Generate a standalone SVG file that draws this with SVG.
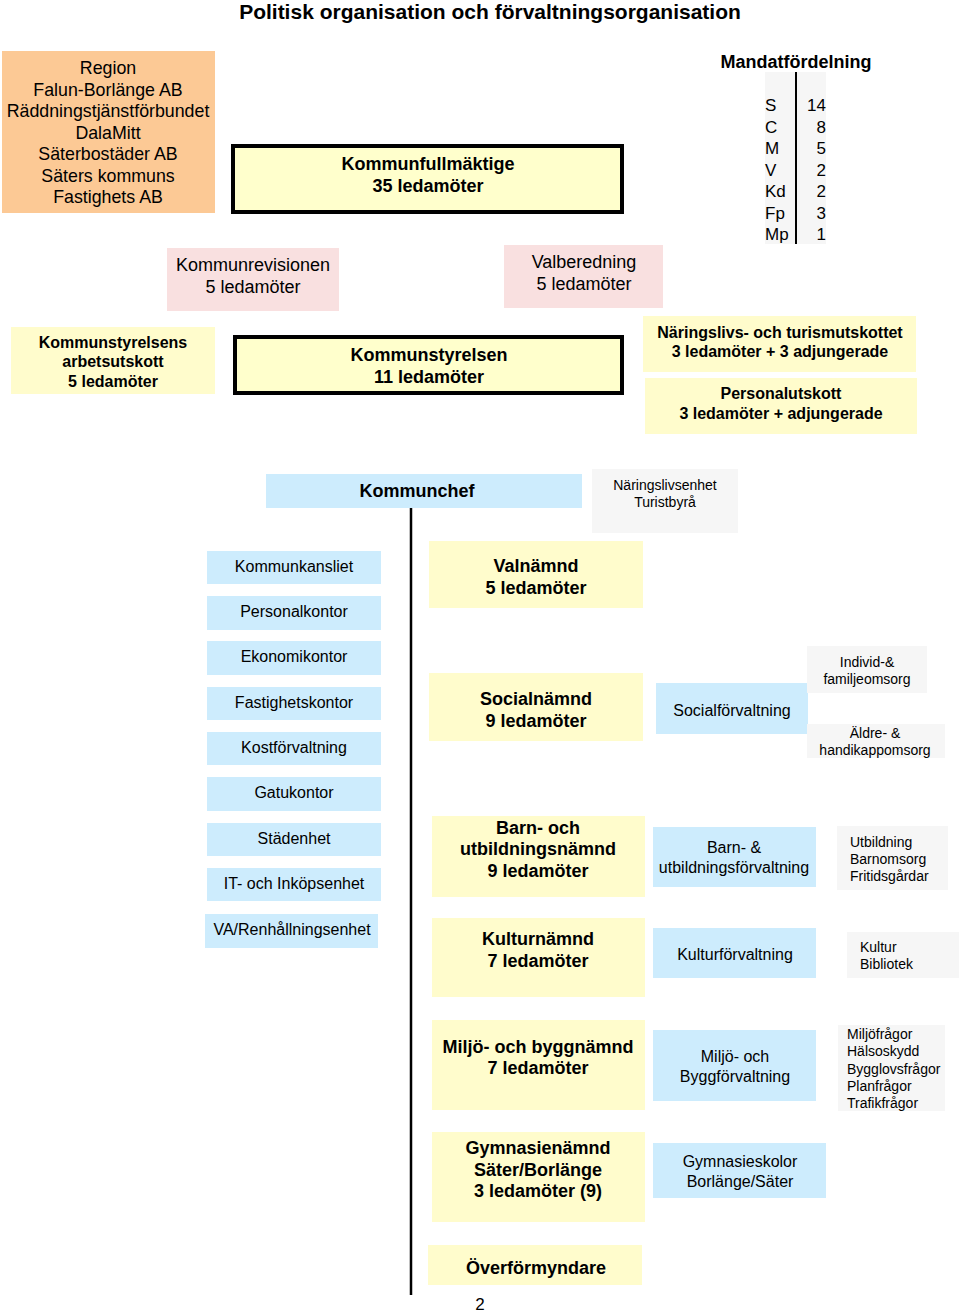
<svg xmlns="http://www.w3.org/2000/svg" width="960" height="1312" viewBox="0 0 960 1312">
<style>
text{font-family:"Liberation Sans",Arial,sans-serif;fill:#000}
.c{text-anchor:middle}
.b{font-weight:bold}
.orange{fill:#fcc995}
.yel{fill:#fffccc}
.ythick{fill:#ffffcc;stroke:#000;stroke-width:4}
.pink{fill:#f9e0e0}
.blue{fill:#cdecfd}
.grey{fill:#f6f6f6}
.f18{font-size:18px}
.f17{font-size:17px}
.f16{font-size:16px}
.f14{font-size:14px}
</style>
<rect width="960" height="1312" fill="#fff"/>
<text x="490" y="19" class="c b" font-size="21">Politisk organisation och förvaltningsorganisation</text>

<g id="region">
<rect x="2" y="51" width="213" height="162" class="orange"/>
<text class="c" font-size="17.8" x="108"><tspan x="108" y="74">Region</tspan><tspan x="108" y="95.5">Falun-Borlänge AB</tspan><tspan x="108" y="117">Räddningstjänstförbundet</tspan><tspan x="108" y="138.5">DalaMitt</tspan><tspan x="108" y="160">Säterbostäder AB</tspan><tspan x="108" y="181.5">Säters kommuns</tspan><tspan x="108" y="203">Fastighets AB</tspan></text>
</g>

<g id="kommunfullmaktige">
<rect x="233" y="146" width="389" height="66" class="ythick"/>
<text class="c b f18"><tspan x="428" y="170">Kommunfullmäktige</tspan><tspan x="428" y="192">35 ledamöter</tspan></text>
</g>

<g id="mandatfordelning">
<text x="796" y="68" class="c b f18">Mandatfördelning</text>
<rect x="765" y="72" width="61" height="172" class="grey"/>
<line x1="796" y1="72" x2="796" y2="244" stroke="#000" stroke-width="2"/>
<text class="f17"><tspan x="765" y="111">S</tspan><tspan x="765" y="133">C</tspan><tspan x="765" y="154">M</tspan><tspan x="765" y="176">V</tspan><tspan x="765" y="197">Kd</tspan><tspan x="765" y="219">Fp</tspan><tspan x="765" y="240">Mp</tspan></text>
<text class="f17" text-anchor="end"><tspan x="826" y="111">14</tspan><tspan x="826" y="133">8</tspan><tspan x="826" y="154">5</tspan><tspan x="826" y="176">2</tspan><tspan x="826" y="197">2</tspan><tspan x="826" y="219">3</tspan><tspan x="826" y="240">1</tspan></text>
</g>

<g id="kommunrevisionen">
<rect x="167" y="248" width="172" height="63" class="pink"/>
<text class="c f18"><tspan x="253" y="271">Kommunrevisionen</tspan><tspan x="253" y="293">5 ledamöter</tspan></text>
</g>

<g id="valberedning">
<rect x="504" y="245" width="159" height="63" class="pink"/>
<text class="c f18"><tspan x="584" y="268">Valberedning</tspan><tspan x="584" y="290">5 ledamöter</tspan></text>
</g>

<g id="ks-au">
<rect x="11" y="327" width="204" height="67" class="yel"/>
<text class="c b f16"><tspan x="113" y="348">Kommunstyrelsens</tspan><tspan x="113" y="367">arbetsutskott</tspan><tspan x="113" y="387">5 ledamöter</tspan></text>
</g>

<g id="kommunstyrelsen">
<rect x="235" y="337" width="387" height="56" class="ythick"/>
<text class="c b f18"><tspan x="429" y="361">Kommunstyrelsen</tspan><tspan x="429" y="383">11 ledamöter</tspan></text>
</g>

<g id="naringslivsutskott">
<rect x="643" y="316" width="273" height="56" class="yel"/>
<text class="c b f16"><tspan x="780" y="338">Näringslivs- och turismutskottet</tspan><tspan x="780" y="357">3 ledamöter + 3 adjungerade</tspan></text>
</g>

<g id="personalutskott">
<rect x="645" y="378" width="272" height="56" class="yel"/>
<text class="c b f16"><tspan x="781" y="399">Personalutskott</tspan><tspan x="781" y="419">3 ledamöter + adjungerade</tspan></text>
</g>

<g id="kommunchef">
<rect x="266" y="474" width="316" height="34" class="blue"/>
<text x="417" y="497" class="c b f18">Kommunchef</text>
</g>

<g id="naringslivsenhet">
<rect x="592" y="469" width="146" height="64" class="grey"/>
<text class="c f14"><tspan x="665" y="490">Näringslivsenhet</tspan><tspan x="665" y="507">Turistbyrå</tspan></text>
</g>

<g id="connectors">
<line x1="411" y1="508" x2="411" y2="1295" stroke="#000" stroke-width="2.5"/>
</g>

<g id="kommunkansliet"><rect x="207" y="551" width="174" height="33" class="blue"/><text x="294" y="572" class="c f16">Kommunkansliet</text></g>
<g id="personalkontor"><rect x="207" y="596" width="174" height="34" class="blue"/><text x="294" y="617" class="c f16">Personalkontor</text></g>
<g id="ekonomikontor"><rect x="207" y="641" width="174" height="34" class="blue"/><text x="294" y="662" class="c f16">Ekonomikontor</text></g>
<g id="fastighetskontor"><rect x="207" y="687" width="174" height="33" class="blue"/><text x="294" y="708" class="c f16">Fastighetskontor</text></g>
<g id="kostforvaltning"><rect x="207" y="732" width="174" height="33" class="blue"/><text x="294" y="753" class="c f16">Kostförvaltning</text></g>
<g id="gatukontor"><rect x="207" y="777" width="174" height="34" class="blue"/><text x="294" y="798" class="c f16">Gatukontor</text></g>
<g id="stadenhet"><rect x="207" y="823" width="174" height="33" class="blue"/><text x="294" y="844" class="c f16">Städenhet</text></g>
<g id="it-inkop"><rect x="207" y="868" width="174" height="33" class="blue"/><text x="294" y="889" class="c f16">IT- och Inköpsenhet</text></g>
<g id="va-renhallning"><rect x="205" y="914" width="173" height="34" class="blue"/><text x="292" y="935" class="c f16">VA/Renhållningsenhet</text></g>

<g id="valnamnd"><rect x="429" y="541" width="214" height="67" class="yel"/><text class="c b f18"><tspan x="536" y="572">Valnämnd</tspan><tspan x="536" y="594">5 ledamöter</tspan></text></g>
<g id="socialnamnd"><rect x="429" y="673" width="214" height="68" class="yel"/><text class="c b f18"><tspan x="536" y="705">Socialnämnd</tspan><tspan x="536" y="727">9 ledamöter</tspan></text></g>
<g id="bun"><rect x="432" y="816" width="213" height="81" class="yel"/><text class="c b f18"><tspan x="538" y="834">Barn- och</tspan><tspan x="538" y="855">utbildningsnämnd</tspan><tspan x="538" y="877">9 ledamöter</tspan></text></g>
<g id="kulturnamnd"><rect x="432" y="918" width="213" height="79" class="yel"/><text class="c b f18"><tspan x="538" y="945">Kulturnämnd</tspan><tspan x="538" y="967">7 ledamöter</tspan></text></g>
<g id="miljobygg"><rect x="432" y="1020" width="213" height="90" class="yel"/><text class="c b f18"><tspan x="538" y="1053">Miljö- och byggnämnd</tspan><tspan x="538" y="1074">7 ledamöter</tspan></text></g>
<g id="gymnasienamnd"><rect x="432" y="1132" width="213" height="90" class="yel"/><text class="c b f18"><tspan x="538" y="1154">Gymnasienämnd</tspan><tspan x="538" y="1176">Säter/Borlänge</tspan><tspan x="538" y="1197">3 ledamöter (9)</tspan></text></g>
<g id="overformyndare"><rect x="428" y="1245" width="214" height="40" class="yel"/><text x="536" y="1274" class="c b f18">Överförmyndare</text></g>

<g id="socialforvaltning"><rect x="656" y="683" width="152" height="51" class="blue"/><text x="732" y="716" class="c f16">Socialförvaltning</text></g>
<g id="buf"><rect x="653" y="827" width="163" height="60" class="blue"/><text class="c f16"><tspan x="734" y="853">Barn- &amp;</tspan><tspan x="734" y="873">utbildningsförvaltning</tspan></text></g>
<g id="kulturforvaltning"><rect x="653" y="928" width="163" height="50" class="blue"/><text x="735" y="960" class="c f16">Kulturförvaltning</text></g>
<g id="miljoforvaltning"><rect x="653" y="1030" width="163" height="71" class="blue"/><text class="c f16"><tspan x="735" y="1062">Miljö- och</tspan><tspan x="735" y="1082">Byggförvaltning</tspan></text></g>
<g id="gymnasieskolor"><rect x="653" y="1143" width="173" height="55" class="blue"/><text class="c f16"><tspan x="740" y="1167">Gymnasieskolor</tspan><tspan x="740" y="1187">Borlänge/Säter</tspan></text></g>

<g id="ifo"><rect x="807" y="646" width="120" height="47" class="grey"/><text class="c f14"><tspan x="867" y="667">Individ-&amp;</tspan><tspan x="867" y="684">familjeomsorg</tspan></text></g>
<g id="aldre"><rect x="807" y="724" width="138" height="34" class="grey"/><text class="c f14"><tspan x="875" y="738">Äldre- &amp;</tspan><tspan x="875" y="755">handikappomsorg</tspan></text></g>
<g id="utbildning"><rect x="837" y="826" width="111" height="64" class="grey"/><text class="f14"><tspan x="850" y="847">Utbildning</tspan><tspan x="850" y="864">Barnomsorg</tspan><tspan x="850" y="881">Fritidsgårdar</tspan></text></g>
<g id="kultur"><rect x="847" y="932" width="112" height="46" class="grey"/><text class="f14"><tspan x="860" y="952">Kultur</tspan><tspan x="860" y="969">Bibliotek</tspan></text></g>
<g id="miljofragor"><rect x="838" y="1025" width="107" height="86" class="grey"/><text class="f14"><tspan x="847" y="1039">Miljöfrågor</tspan><tspan x="847" y="1056">Hälsoskydd</tspan><tspan x="847" y="1074">Bygglovsfrågor</tspan><tspan x="847" y="1091">Planfrågor</tspan><tspan x="847" y="1108">Trafikfrågor</tspan></text></g>

<text x="480" y="1310" class="c f17">2</text>
</svg>
